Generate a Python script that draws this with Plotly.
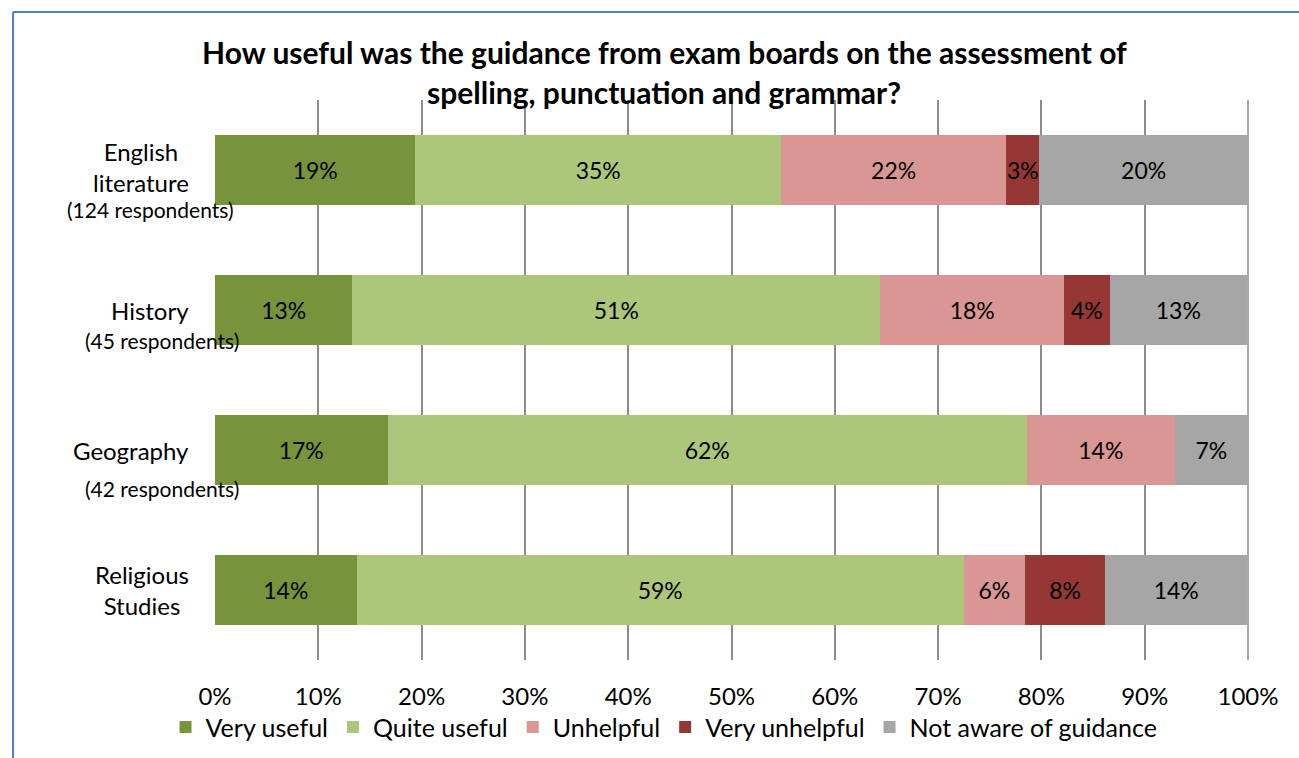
import plotly.graph_objects as go

# data (percent of respondents)
subjects = ["English literature", "History", "Geography", "Religious Studies"]
subject_lines = ["English<br>literature", "History", "Geography", "Religious<br>Studies"]
respondents = [124, 45, 42, None]

responses = ["Very useful", "Quite useful", "Unhelpful", "Very unhelpful", "Not aware of guidance"]
very_useful = [19.4, 13.3, 16.7, 13.7]
quite_useful = [35.4, 51.1, 61.9, 58.8]
unhelpful = [21.8, 17.8, 14.3, 5.9]
very_unhelpful = [3.2, 4.4, 0.0, 7.8]
not_aware = [20.2, 13.3, 7.1, 13.7]

series = [very_useful, quite_useful, unhelpful, very_unhelpful, not_aware]
colors = ["#77933C", "#ADC77A", "#D99694", "#953735", "#A6A6A6"]

FONT = "Lato"

fig = go.Figure()
for name, vals, col in zip(responses, series, colors):
    fig.add_trace(go.Bar(
        y=subjects, x=vals, name=name, orientation="h",
        marker=dict(color=col, line=dict(width=0)),
        text=[f"{round(v)}%" if v > 0 else "" for v in vals],
        textposition="inside", insidetextanchor="middle",
        textangle=0, constraintext="none",
        textfont=dict(family=FONT, size=23, color="black"),
        width=0.5,
    ))

annotations = []
# title, two centred lines
for txt, yy in [("How useful was the guidance from exam boards on the assessment of", 1.0857),
                ("spelling, punctuation and grammar?", 1.0143)]:
    annotations.append(dict(text=f"<b>{txt}</b>", xref="paper", yref="paper", x=0.4347, y=yy,
                            xanchor="center", yanchor="middle", showarrow=False,
                            font=dict(family=FONT, size=30, color="black")))

# category labels + respondent counts underneath
main_yshift = [3, 0, 0, 0]
sub_xshift = [-65, -53, -53, 0]
sub_yshift = [-39, -30, -38, 0]
for i, (subj, lines, n) in enumerate(zip(subjects, subject_lines, respondents)):
    annotations.append(dict(text=lines, xref="paper", yref="y", x=0, y=subj,
                            xshift=-24, yshift=main_yshift[i],
                            xanchor="right", yanchor="middle", align="center", showarrow=False,
                            font=dict(family=FONT, size=24, color="black")))
    if n is not None:
        annotations.append(dict(text=f"({n} respondents)", xref="paper", yref="y", x=0, y=subj,
                                xshift=sub_xshift[i], yshift=sub_yshift[i],
                                xanchor="center", yanchor="middle", showarrow=False,
                                font=dict(family=FONT, size=21, color="black")))

fig.update_layout(
    width=1299, height=758,
    margin=dict(l=215, r=51, t=100, b=98, autoexpand=False),
    barmode="stack",
    paper_bgcolor="white", plot_bgcolor="white",
    font=dict(family=FONT, size=24, color="black"),
    xaxis=dict(range=[0, 100], dtick=10, ticksuffix="%", showgrid=True,
               gridcolor="#8C8C8C", gridwidth=1.5, zeroline=False, showline=False,
               ticks="", ticklabelstandoff=20, tickfont=dict(family=FONT, size=24)),
    yaxis=dict(autorange="reversed", showticklabels=False, showgrid=False,
               zeroline=False, showline=False, ticks=""),
    legend=dict(orientation="h", x=0.4347, xanchor="center", y=-0.12, yanchor="middle",
                bgcolor="rgba(0,0,0,0)", font=dict(family=FONT, size=25), traceorder="normal"),
    annotations=annotations,
    shapes=[
        dict(type="line", xref="paper", yref="paper", x0=-0.1955, x1=1.06, y0=1.157, y1=1.157,
             line=dict(color="#4F81BD", width=2)),
        dict(type="line", xref="paper", yref="paper", x0=-0.1955, x1=-0.1955, y0=1.157, y1=-0.2,
             line=dict(color="#4F81BD", width=2)),
        dict(type="line", xref="paper", yref="paper", x0=1, x1=1, y0=0, y1=1,
             line=dict(color="#8C8C8C", width=1.5), layer="below"),
    ],
)

fig.write_html("out.html", config={"displayModeBar": False},
               post_script="document.body.style.margin='0';")
